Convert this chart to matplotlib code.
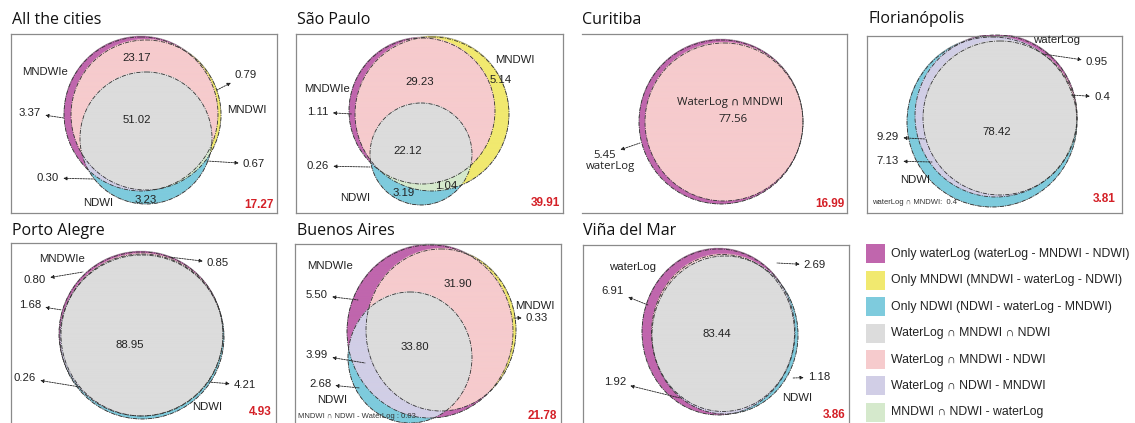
import numpy as np
import matplotlib.pyplot as plt
from matplotlib.patches import Rectangle, Ellipse

LAB = ['Liberation Sans', 'DejaVu Sans']
TIT = ['Open Sans', 'DejaVu Sans']

# region colours, key = (in waterLog, in MNDWI, in NDWI)
region_colors = {
    (1, 0, 0): '#c066ad',
    (0, 1, 0): '#f1e96f',
    (0, 0, 1): '#7ecbdd',
    (1, 1, 1): '#dcdcdc',
    (1, 1, 0): '#f6cbcd',
    (1, 0, 1): '#d1cee6',
    (0, 1, 1): '#d5e9cc',
}
legend_keys = [(1, 0, 0), (0, 1, 0), (0, 0, 1), (1, 1, 1), (1, 1, 0), (1, 0, 1), (0, 1, 1)]
legend_labels = [
    'Only waterLog (waterLog - MNDWI - NDWI)',
    'Only MNDWI (MNDWI - waterLog - NDWI)',
    'Only NDWI (NDWI - waterLog - MNDWI)',
    'WaterLog \u2229 MNDWI \u2229 NDWI',
    'WaterLog \u2229 MNDWI - NDWI',
    'WaterLog \u2229 NDWI - MNDWI',
    'MNDWI \u2229 NDWI - waterLog',
]

titles = ['All the cities', 'São Paulo', 'Curitiba', 'Florianópolis',
          'Porto Alegre', 'Buenos Aires', 'Viña del Mar']
totals = ['17.27', '39.91', '16.99', '3.81', '4.93', '21.78', '3.86']

all_vals = ['23.17', '51.02', '3.23', '3.37', '0.79', '0.67', '0.30']
sp_vals = ['29.23', '22.12', '3.19', '1.04', '5.14', '1.11', '0.26']
cur_vals = ['77.56', '5.45']
flo_vals = ['78.42', '0.95', '0.4', '9.29', '7.13']
poa_vals = ['88.95', '0.85', '0.80', '1.68', '0.26', '4.21']
ba_vals = ['31.90', '33.80', '5.50', '0.33', '3.99', '2.68']
vdm_vals = ['83.44', '2.69', '6.91', '1.92', '1.18']

# layout (pixel coords, y down)
panels = [
    dict(box=(11, 34, 277, 213), sides='lrtb', title_xy=(12, 24), total_xy=(274, 205),
         circles={'W': (141, 114, 77, 77), 'M': (146, 115, 75, 75), 'N': (146, 138, 66, 66)},
         vals=all_vals,
         pos=[(137, 58, None), (137, 120, None), (146, 200, None), (30, 113, (64, 118)),
              (246, 75, (217, 90)), (254, 164, (207, 161)), (48, 178, (94, 179))],
         names=[('MNDWIe', 45, 72), ('MNDWI', 247, 110), ('NDWI', 98, 203)]),
    dict(box=(296, 34, 563, 213), sides='lrtb', title_xy=(297, 24), total_xy=(560, 203),
         circles={'W': (422, 111, 73, 73), 'M': (432, 114, 77, 77), 'N': (421, 154, 51, 51)},
         vals=sp_vals,
         pos=[(420, 82, None), (408, 151, None), (404, 193, None), (446, 186, None),
              (501, 80, None), (318, 112, (352, 114)), (318, 166, (370, 167))],
         names=[('MNDWI', 515, 60), ('MNDWIe', 327, 89), ('NDWI', 355, 198)]),
    dict(box=(582, 34, 847, 213), sides='rtb', title_xy=(582, 24), total_xy=(844, 204),
         circles={'W': (721, 122, 82, 82), 'M': (724, 122, 79, 79)},
         vals=cur_vals, font=TIT,
         pos=[(733, 119, None), (605, 155, (640, 143))],
         names=[('WaterLog \u2229 MNDWI', 730, 102), ('waterLog', 610, 167)]),
    dict(box=(867, 36, 1122, 213), sides='lrtb', title_xy=(869, 23), total_xy=(1116, 199),
         circles={'W': (996, 116, 81, 81), 'M': (1000, 118, 77, 77), 'N': (992, 122, 85, 85)},
         vals=flo_vals,
         pos=[(997, 132, None), (1097, 62, (1043, 54)), (1102, 97, (1071, 95)),
              (888, 137, (925, 139)), (888, 161, (932, 162))],
         names=[('waterLog', 1057, 40), ('NDWI', 915, 180)],
         note=('waterLog \u2229 MNDWI:  0.4', 872, 202)),
    dict(box=(11, 243, 276, 430), sides='lrt', title_xy=(12, 235), total_xy=(272, 412),
         circles={'W': (141, 334, 82, 82), 'M': (142, 335, 81, 81), 'N': (142, 337, 82, 82)},
         vals=poa_vals,
         pos=[(130, 345, None), (218, 263, (169, 257)), (35, 280, (83, 272)),
              (30, 305, (62, 310)), (25, 378, (80, 387)), (245, 385, (208, 382))],
         names=[('MNDWIe', 62, 259), ('NDWI', 207, 407)]),
    dict(box=(295, 244, 561, 430), sides='lrt', title_xy=(297, 235), total_xy=(557, 416),
         circles={'W': (430, 331.5, 83, 86.5), 'M': (441, 330, 75, 81), 'N': (410, 357.5, 62, 65.5)},
         vals=ba_vals,
         pos=[(458, 284, None), (415, 347, None), (317, 295, (358, 300)),
              (537, 318, (513, 318)), (317, 355, (365, 363)), (320, 384, (360, 388))],
         names=[('MNDWIe', 330, 266), ('MNDWI', 535, 306), ('NDWI', 332, 400)],
         note=('MNDWI \u2229 NDWI - WaterLog : 0.03', 298, 417)),
    dict(box=(583, 245, 849, 430), sides='lrt', title_xy=(583, 235), total_xy=(845, 415),
         circles={'W': (718.5, 332, 76.5, 83), 'M': (723, 333, 71.5, 78.5), 'N': (725, 335, 73, 79)},
         vals=vdm_vals,
         pos=[(717, 334, None), (815, 265, (777, 263)), (613, 291, (648, 305)),
              (615, 382, (680, 398)), (819, 377, (793, 378))],
         names=[('waterLog', 633, 267), ('NDWI', 797, 398)]),
]

fig = plt.figure(figsize=(11.35, 4.23), dpi=100)
ax = fig.add_axes([0, 0, 1, 1])


def region_image(box, circles, ss=3):
    x0, y0, x1, y1 = box
    xs = np.arange(x0, x1, 1.0 / ss) + 0.5 / ss
    ys = np.arange(y0, min(y1, 423), 1.0 / ss) + 0.5 / ss
    X, Y = np.meshgrid(xs, ys)
    masks = []
    for k in 'WMN':
        if k in circles:
            cx, cy, rx, ry = circles[k]
            masks.append((((X - cx) / rx) ** 2 + ((Y - cy) / ry) ** 2) <= 1)
        else:
            masks.append(np.zeros(X.shape, bool))
    img = np.zeros(X.shape + (4,))
    for key, col in region_colors.items():
        sel = (masks[0] == key[0]) & (masks[1] == key[1]) & (masks[2] == key[2])
        img[sel] = plt.matplotlib.colors.to_rgba(col)
    return img, (x0, x1, ys[-1] + 0.5 / ss, y0)


for p, title, total in zip(panels, titles, totals):
    x0, y0, x1, y1 = p['box']
    if 'l' in p['sides']:
        ax.plot([x0, x0], [y0, y1], color='#8a8a8a', lw=0.9)
    if 'r' in p['sides']:
        ax.plot([x1, x1], [y0, y1], color='#8a8a8a', lw=0.9)
    if 't' in p['sides']:
        ax.plot([x0, x1], [y0, y0], color='#8a8a8a', lw=0.9)
    if 'b' in p['sides']:
        ax.plot([x0, x1], [y1, y1], color='#8a8a8a', lw=0.9)

    img, ext = region_image(p['box'], p['circles'])
    ax.imshow(img, extent=ext, aspect='auto', interpolation='antialiased', zorder=1)
    for k, (cx, cy, rx, ry) in p['circles'].items():
        ax.add_patch(Ellipse((cx, cy), 2 * rx, 2 * ry, fill=False, ec='#333333', lw=0.6,
                             ls=(0, (5, 1.5, 1, 1.5)), zorder=2))

    ax.text(p['title_xy'][0], p['title_xy'][1], title, family=TIT, fontsize=11.5,
            va='baseline', ha='left', color='#111111')
    ax.text(p['total_xy'][0], p['total_xy'][1], total, family=LAB, fontsize=8.5,
            fontweight='bold', color='#d42027', ha='right', va='center')

    fam = p.get('font', LAB)
    for v, (tx, ty, src) in zip(p['vals'], p['pos']):
        if src is None:
            ax.text(tx, ty, v, family=fam, fontsize=8.2, ha='center', va='center',
                    color='#222222', zorder=4)
        else:
            ax.annotate(v, xy=src, xytext=(tx, ty), family=fam, fontsize=8.2,
                        ha='center', va='center', color='#222222', zorder=4,
                        arrowprops=dict(arrowstyle='<|-', lw=0.6, ls=(0, (2, 1.2)),
                                        color='#222222', shrinkA=1, shrinkB=0,
                                        mutation_scale=5))
    for name, tx, ty in p['names']:
        ax.text(tx, ty, name, family=fam, fontsize=8.2, ha='center', va='center',
                color='#222222', zorder=4)
    if 'note' in p:
        s, tx, ty = p['note']
        ax.text(tx, ty, s, family=LAB, fontsize=5.5, ha='left', va='center', color='#333333')

# legend
for i, (key, lab) in enumerate(zip(legend_keys, legend_labels)):
    yc = 254 + 26.4 * i
    ax.add_patch(Rectangle((866, yc - 9.5), 19, 19, color=region_colors[key], lw=0))
    ax.text(891, yc, lab, family=LAB, fontsize=8.8, ha='left', va='center', color='#222222')

ax.set_xlim(0, 1135)
ax.set_ylim(423, 0)
ax.axis('off')
fig.savefig('out.png', dpi=100)
